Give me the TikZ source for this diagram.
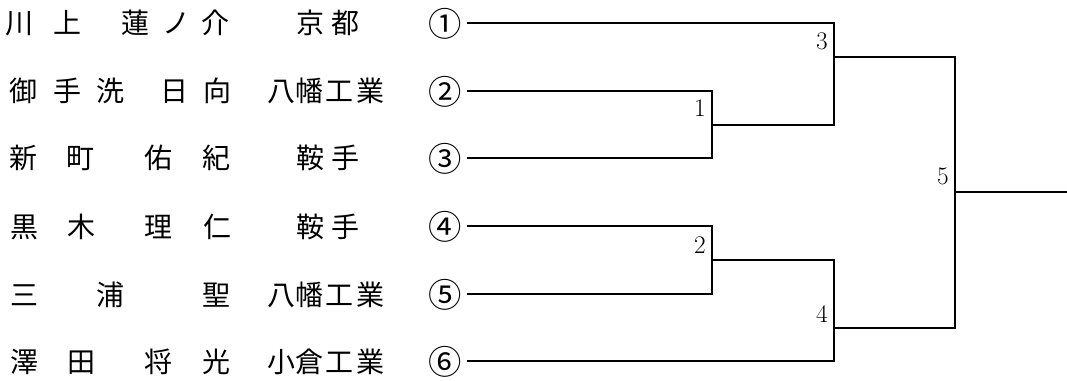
\documentclass[tikz,border=0pt]{standalone}
\usepackage{fontspec}
\newfontfamily\jpfont{Noto Sans CJK JP}
\tikzset{
  jp/.style={font=\jpfont\fontsize{21pt}{21pt}\selectfont, inner sep=0pt, anchor=base},
  circnum/.style={font=\jpfont\fontsize{25pt}{25pt}\selectfont, inner sep=0pt, anchor=center},
  num/.style={font=\fontsize{19pt}{19pt}\selectfont, inner sep=0pt, anchor=base east},
  bracket/.style={line width=0.9pt, line join=miter, line cap=rect}
}
\begin{document}
\begin{tikzpicture}[x=0.75pt,y=-0.75pt]
\useasboundingbox (0,0) rectangle (1067,381);
% row 1
\node[jp] (r1a) at (20,34) {川};
\node[jp] (r1b) at (67,34) {上};
\node[jp] (r1c) at (135,34) {蓮};
\node[jp] (r1d) at (176,34) {ノ};
\node[jp] (r1e) at (215,34) {介};
\node[jp] (s1a) at (310,34) {京};
\node[jp] (s1b) at (345,34) {都};
\node[circnum] (c1) at (445,24) {①};
% row 2
\node[jp] (r2a) at (23,102) {御};
\node[jp] (r2b) at (67,102) {手};
\node[jp] (r2c) at (110,102) {洗};
\node[jp] (r2d) at (174,102) {日};
\node[jp] (r2e) at (217,102) {向};
\node[jp] (s2a) at (281,102) {八};
\node[jp] (s2b) at (309,102) {幡};
\node[jp] (s2c) at (339,102) {工};
\node[jp] (s2d) at (370,102) {業};
\node[circnum] (c2) at (445,92) {②};
% row 3
\node[jp] (r3a) at (23,169) {新};
\node[jp] (r3b) at (80,169) {町};
\node[jp] (r3c) at (158,169) {佑};
\node[jp] (r3d) at (216,169) {紀};
\node[jp] (s3a) at (310,169) {鞍};
\node[jp] (s3b) at (345,169) {手};
\node[circnum] (c3) at (445,159) {③};
% row 4
\node[jp] (r4a) at (24,237) {黒};
\node[jp] (r4b) at (81,237) {木};
\node[jp] (r4c) at (158,237) {理};
\node[jp] (r4d) at (217,237) {仁};
\node[jp] (s4a) at (310,237) {鞍};
\node[jp] (s4b) at (345,237) {手};
\node[circnum] (c4) at (445,227) {④};
% row 5
\node[jp] (r5a) at (24,305) {三};
\node[jp] (r5b) at (110,305) {浦};
\node[jp] (r5c) at (216,305) {聖};
\node[jp] (s5a) at (281,305) {八};
\node[jp] (s5b) at (309,305) {幡};
\node[jp] (s5c) at (339,305) {工};
\node[jp] (s5d) at (370,305) {業};
\node[circnum] (c5) at (445,295) {⑤};
% row 6
\node[jp] (r6a) at (24,372) {澤};
\node[jp] (r6b) at (81,372) {田};
\node[jp] (r6c) at (158,372) {将};
\node[jp] (r6d) at (216,372) {光};
\node[jp] (s6a) at (281,372) {小};
\node[jp] (s6b) at (309,372) {倉};
\node[jp] (s6c) at (339,372) {工};
\node[jp] (s6d) at (370,372) {業};
\node[circnum] (c6) at (445,362) {⑥};
% line starts
\coordinate (p1) at (468,23);
\coordinate (p2) at (468,91);
\coordinate (p3) at (468,158);
\coordinate (p4) at (468,226);
\coordinate (p5) at (468,294);
\coordinate (p6) at (468,361);
% match joints
\coordinate (m1) at (712,125);
\coordinate (m2) at (712,260);
\coordinate (m3) at (834,57);
\coordinate (m4) at (834,328);
\coordinate (m5) at (955,192);
\coordinate (fin) at (1067,192);
% brackets
\draw[bracket] (p2) -| (m1) |- (p3);
\draw[bracket] (p4) -| (m2) |- (p5);
\draw[bracket] (p1) -| (m3);
\draw[bracket] (m1) -| (m3);
\draw[bracket] (p6) -| (m4);
\draw[bracket] (m2) -| (m4);
\draw[bracket] (m3) -| (m5);
\draw[bracket] (m4) -| (m5);
\draw[bracket] (m5) -- (fin);
% match numbers
\node[num] (n1) at (706,117) {1};
\node[num] (n2) at (706,253) {2};
\node[num] (n3) at (828,50) {3};
\node[num] (n4) at (828,322) {4};
\node[num] (n5) at (949,185) {5};
\end{tikzpicture}
\end{document}
